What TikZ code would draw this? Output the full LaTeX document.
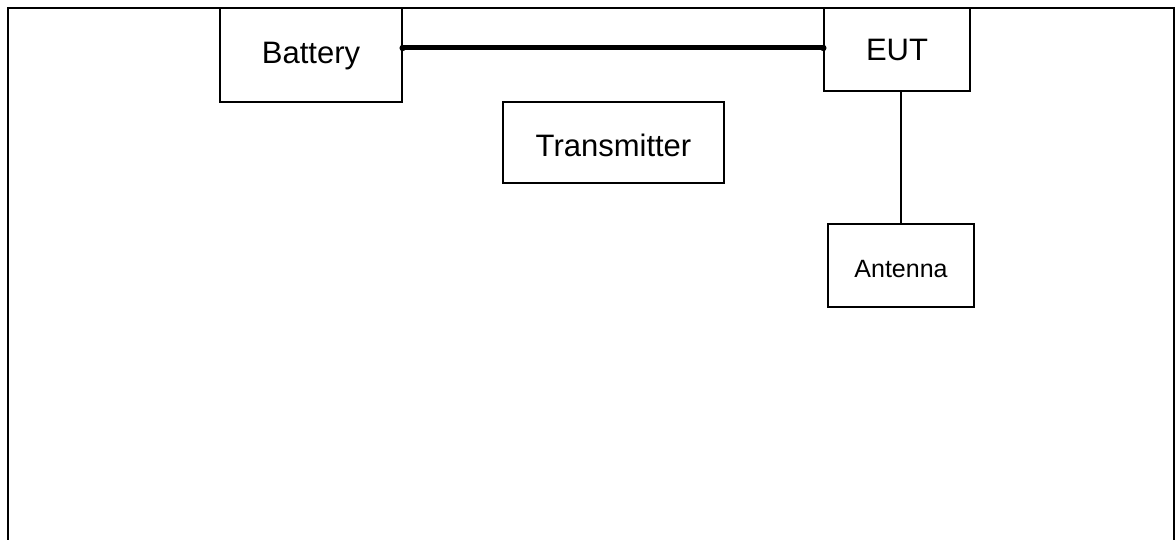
\documentclass[tikz,border=0pt]{standalone}
\usepackage{fontspec}
\setmainfont{Liberation Sans}
\begin{document}
\begin{tikzpicture}[x=1pt,y=-1pt,
  blk/.style={draw, line width=1.3pt, inner sep=0pt, text depth=0pt, text height=22pt, font=\fontsize{31}{36}\selectfont},
  blksmall/.style={blk, font=\fontsize{25}{30}\selectfont},
  wire/.style={line width=1.3pt},
  thickwire/.style={line width=5pt}]
\useasboundingbox (0,0) rectangle (1176,540);
\draw[line width=1.6pt] (8,545) -- (8,8) -- (1174,8) -- (1174,545);
\node[blk, text height=18pt, minimum width=182pt, minimum height=94pt] (bat) at (311,55) {Battery};
\node[blk, text height=23pt, minimum width=146pt, minimum height=83pt] (eut) at (897,49.5) {EUT};
\node[blk, text height=29pt, minimum width=221pt, minimum height=81pt] (tx) at (613.5,142.5) {Transmitter};
\node[blksmall, text height=23pt, minimum width=146pt, minimum height=83pt] (ant) at (901,265.5) {Antenna};
\coordinate (a) at ([yshift=7pt]bat.east);
\coordinate (b) at (a -| eut.west);
\draw[thickwire] (a) -- (b);
\fill (a) circle (3.2pt);
\fill (b) circle (3.2pt);
\draw[wire] (ant.north) -- (ant.north |- eut.south);
\end{tikzpicture}
\end{document}
